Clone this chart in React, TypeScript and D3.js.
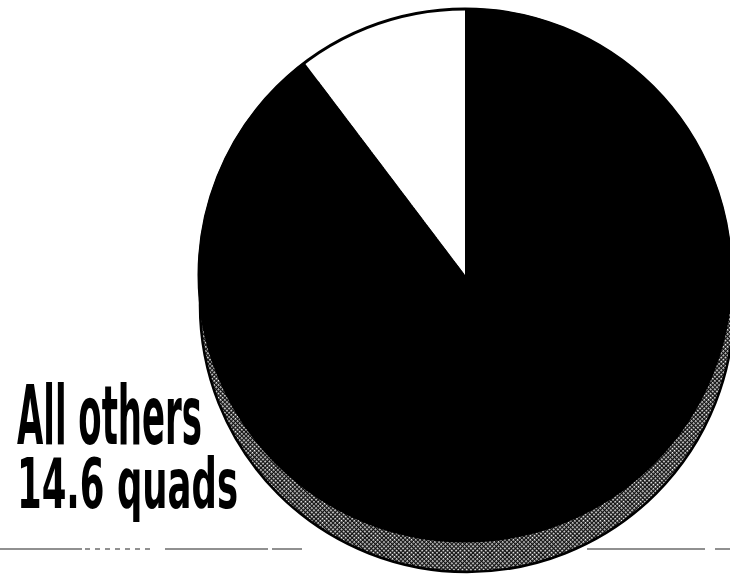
import React from "react";
import * as d3 from "d3";

const categories = ["All others", "Remainder"];
const values = [14.6, 127.0];
const sliceColors = ["#ffffff", "#000000"];
const labelLines = ["All others", "14.6 quads"];

const W = 730;
const H = 575;

export default function App() {
  const cx = 465;
  const cy = 275;
  const r = 267;
  const total = d3.sum(values);
  const offset = (2 * Math.PI * values[0]) / total;
  const pie = d3
    .pie<number>()
    .sort(null)
    .startAngle(-offset)
    .endAngle(2 * Math.PI - offset);
  const arcs = pie(values);
  const arcGen = d3.arc<d3.PieArcDatum<number>>().innerRadius(0).outerRadius(r);

  return (
    <svg
      width={W}
      height={H}
      style={{ position: "absolute", left: 0, top: 0, background: "#fff" }}
    >
      <defs>
        <pattern id="half" width="3" height="3" patternUnits="userSpaceOnUse" patternTransform="rotate(45)">
          <rect width="3" height="3" fill="#111" />
          <rect x="0" y="0" width="1.6" height="1.6" fill="#fff" />
        </pattern>
      </defs>
      {/* baseline rule */}
      <line
        x1={0}
        x2={W}
        y1={549}
        y2={549}
        stroke="#222"
        strokeWidth={1.2}
        strokeDasharray="82 3 5 5 5 5 5 5 5 5 5 5 5 5 5 15 103 4 30 285 118 10 30"
      />
      {/* shadow / base of the 3D disk */}
      <circle cx={cx + 2} cy={cy + 30} r={r} fill="url(#half)" stroke="#000" strokeWidth={2.5} />
      {/* pie */}
      <g transform={`translate(${cx},${cy})`}>
        {arcs.map((a, i) => (
          <path key={categories[i]} d={arcGen(a) || ""} fill={sliceColors[i]} />
        ))}
        <circle r={r - 1} fill="none" stroke="#000" strokeWidth={3} />
      </g>
      {/* label */}
      <g
        fontFamily="'Liberation Sans Narrow', 'DejaVu Sans Condensed', 'Roboto Condensed', sans-serif"
        fontWeight="bold"
        fill="#000"
      >
        <text x={17} y={444} fontSize={82} textLength={185} lengthAdjust="spacingAndGlyphs">
          {labelLines[0]}
        </text>
        <text x={17} y={508} fontSize={70} textLength={221} lengthAdjust="spacingAndGlyphs">
          {labelLines[1]}
        </text>
      </g>
    </svg>
  );
}
